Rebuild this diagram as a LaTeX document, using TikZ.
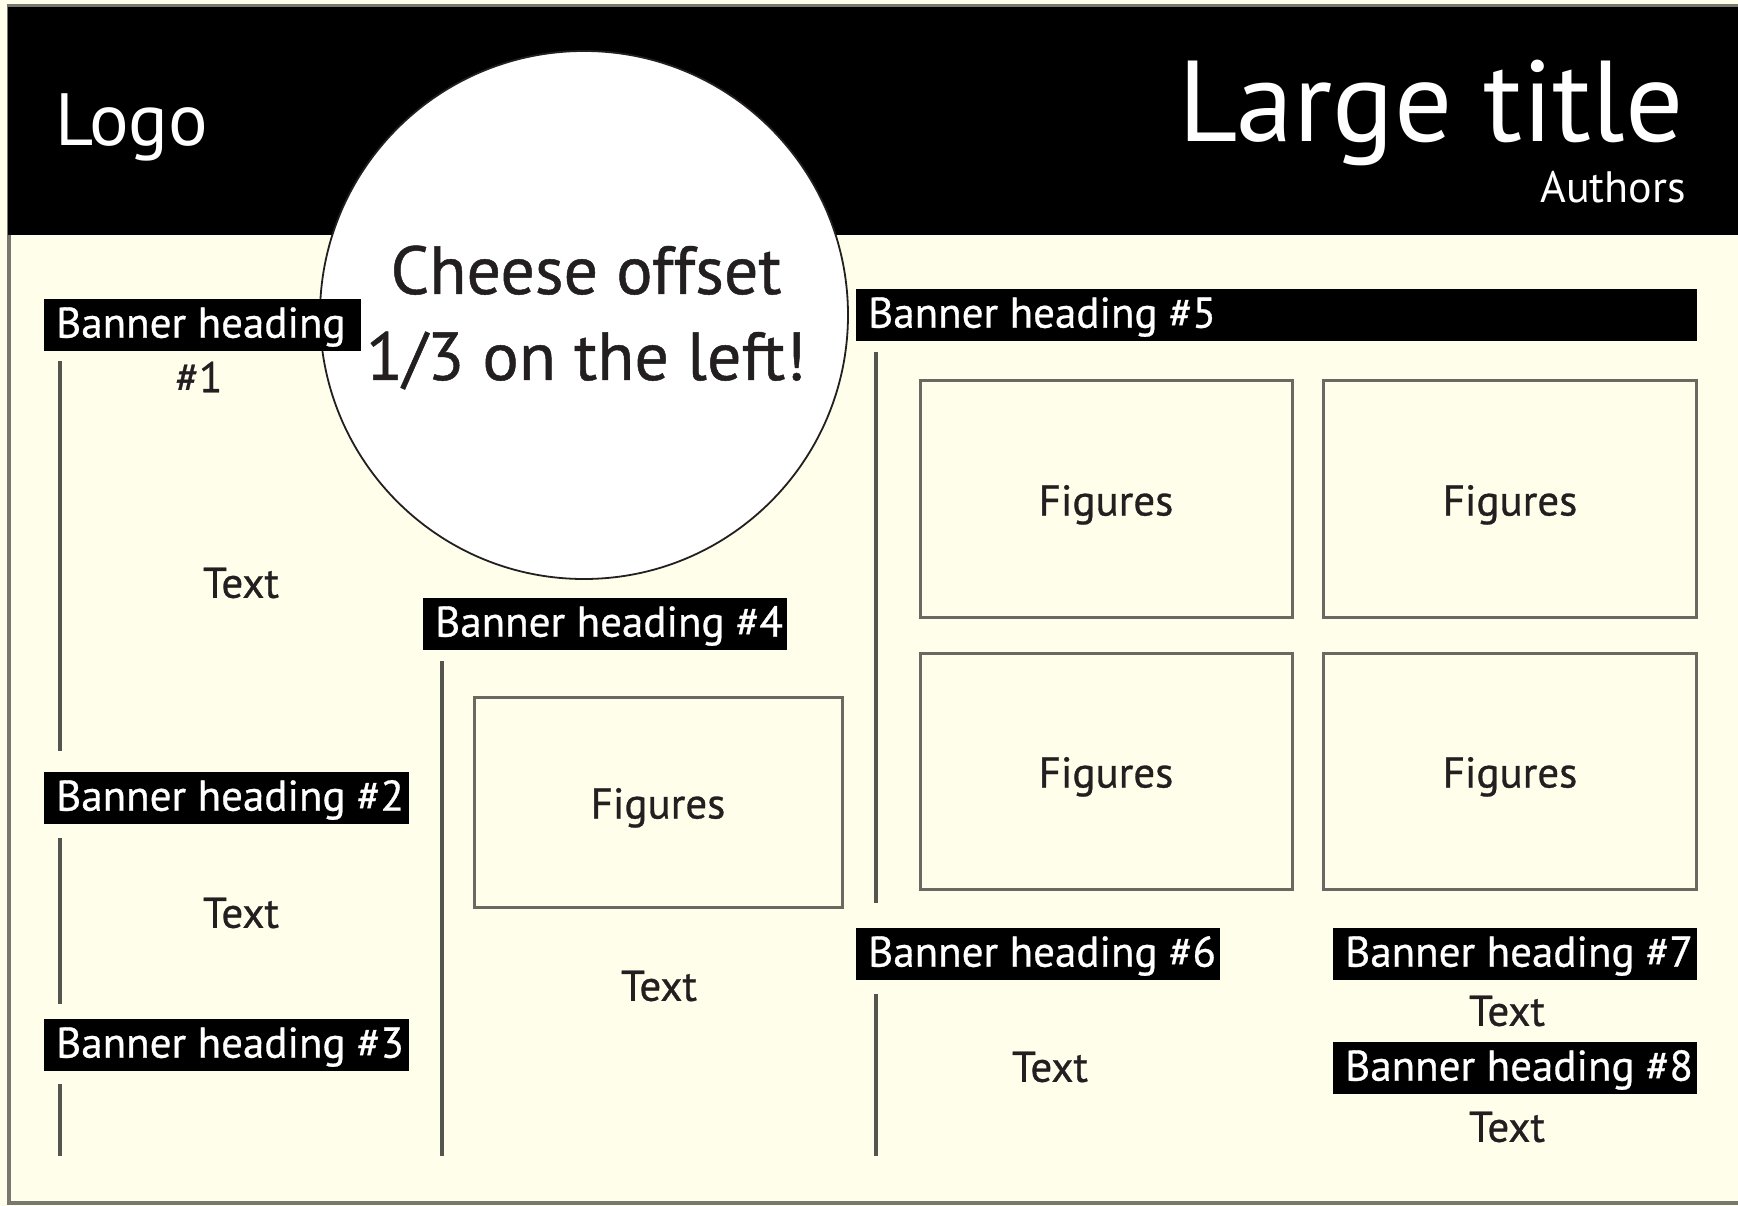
\documentclass[tikz,border=0pt]{standalone}
\usepackage{fontspec}
\setmainfont{PT Sans}
\newfontfamily\medfam{PT Sans}[FakeBold=0.7]
\definecolor{cream}{RGB}{254,254,235}
\definecolor{ink}{RGB}{35,31,32}
\definecolor{rulegray}{RGB}{85,85,80}
\definecolor{boxgray}{RGB}{105,105,98}
\definecolor{framegray}{RGB}{120,120,110}
\newcommand\bodyfnt{\medfam\fontsize{43}{50}\selectfont}
\newcommand\logofnt{\fontsize{74}{84}\selectfont}
\newcommand\titlefnt{\fontsize{115}{130}\selectfont}
\newcommand\authfnt{\fontsize{44}{52}\selectfont}
\newcommand\cheesefnt{\medfam\fontsize{68}{86}\selectfont}
\newcommand\bannertext[2]{\makebox[#1pt][l]{#2}}
\tikzset{
  banner/.style={fill=black, text=white, font=\bodyfnt, inner xsep=12pt, inner ysep=0pt,
    minimum height=52pt, anchor=north west, text height=34pt, text depth=9pt},
  txt/.style={text=ink, font=\bodyfnt, inner sep=0pt},
  figbox/.style={draw=boxgray, line width=3pt, text=ink, font=\bodyfnt, text height=33pt, text depth=0pt},
  vrule/.style={draw=rulegray, line width=3.2pt},
}
\begin{document}
\begin{tikzpicture}[x=1pt, y=-1pt]
\useasboundingbox (0,0) rectangle (1738,1206);
\fill[cream] (0,0) rectangle (1738,1206);
% frame
\draw[framegray, line width=4pt] (9,6) rectangle (1760,1203);
% header
\fill[black] (8,7) rectangle (1738,235);
\node[anchor=base west, text=white, font=\logofnt, inner sep=0pt] (logo) at (55,146) {Logo};
\node[anchor=base east, text=white, font=\titlefnt, inner sep=0pt] (title) at (1684,142) {Large title};
\node[anchor=base east, text=white, font=\authfnt, inner sep=0pt] (authors) at (1686,203) {Authors};
% cheese circle
\node[circle, draw=ink, line width=1.8pt, fill=white, minimum size=528pt, inner sep=0pt] (cheese) at (584,315) {};
\node[anchor=base, text=ink, font=\cheesefnt, inner sep=0pt] (ch1) at (586,294) {Cheese offset};
\node[anchor=base, text=ink, font=\cheesefnt, inner sep=0pt] (ch2) at (586,380) {1/3 on the left!};
% column 1
\node[banner] (b1) at (44,299) {\bannertext{293}{Banner heading}};
\node[txt] (b1n) at (199,377) {\#1};
\draw[vrule] (60,361) -- (60,751);
\node[txt] (t1) at (241,583) {Text};
\node[banner] (b2) at (44,772) {\bannertext{341}{Banner heading \#2}};
\draw[vrule] (60,838) -- (60,1004);
\node[txt] (t2) at (241,913) {Text};
\node[banner] (b3) at (44,1019) {\bannertext{341}{Banner heading \#3}};
\draw[vrule] (60,1084) -- (60,1156);
% column 2
\node[banner] (b4) at (423,598) {\bannertext{340}{Banner heading \#4}};
\draw[vrule] (442,661) -- (442,1156);
\node[figbox, minimum width=368pt, minimum height=210pt] (f0) at (658,802) {Figures};
\node[txt] (t4) at (659,986) {Text};
% column 3
\node[banner] (b5) at (856,289) {\bannertext{817}{Banner heading \#5}};
\draw[vrule] (876,352) -- (876,903);
\node[figbox, minimum width=372pt, minimum height=237pt] (f1) at (1106,499) {Figures};
\node[figbox, minimum width=373pt, minimum height=237pt] (f2) at (1510,499) {Figures};
\node[figbox, minimum width=372pt, minimum height=236pt] (f3) at (1106,771) {Figures};
\node[figbox, minimum width=373pt, minimum height=236pt] (f4) at (1510,771) {Figures};
\node[banner] (b6) at (856,928) {\bannertext{340}{Banner heading \#6}};
\draw[vrule] (876,994) -- (876,1156);
\node[txt] (t6) at (1050,1067) {Text};
\node[banner] (b7) at (1333,928) {\bannertext{340}{Banner heading \#7}};
\node[txt] (t7) at (1507,1011) {Text};
\node[banner] (b8) at (1333,1042) {\bannertext{340}{Banner heading \#8}};
\node[txt] (t8) at (1507,1127) {Text};
\end{tikzpicture}
\end{document}
